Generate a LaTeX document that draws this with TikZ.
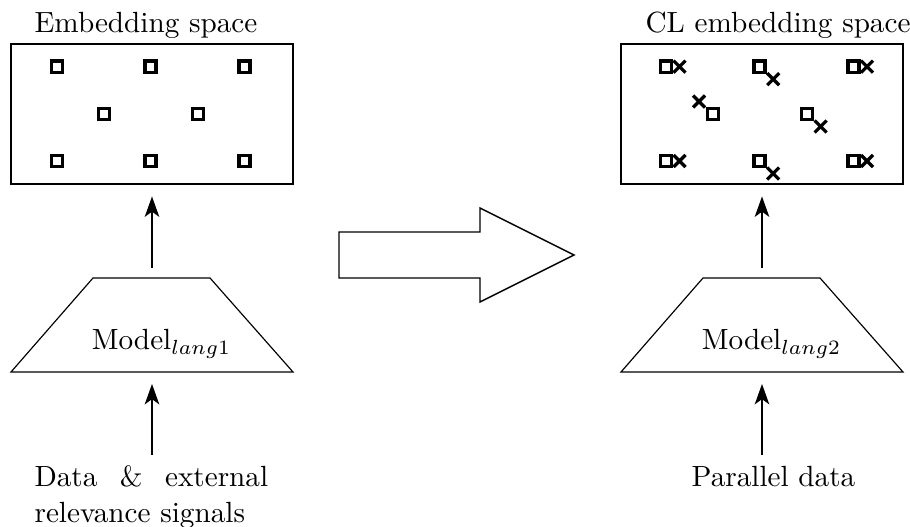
\documentclass[tikz,border=0pt]{standalone}
\usetikzlibrary{arrows.meta,fit}
\begin{document}
\begin{tikzpicture}[x=0.3425pt,y=-0.3425pt,
  frame/.style={draw, line width=0.35pt, inner sep=0pt},
  sq/.style={line width=1.2pt},
  xm/.style={line width=1.1pt},
  arr/.style={-{Stealth[length=7pt,width=5pt,inset=1.8pt]}, line width=0.45pt},
  lbl/.style={inner sep=0pt}]
\useasboundingbox (0,0) rectangle (910,527);

% titles
\node[lbl, anchor=base west] (t1) at (34,33) {Embedding space};
\node[lbl, anchor=base west] (t2) at (645,33) {CL embedding space};

% embedding frames
\coordinate (a1) at (11,44);  \coordinate (b1) at (293,184);
\coordinate (a2) at (621,44); \coordinate (b2) at (903,184);
\node[frame, fit=(a1)(b1)] (emb1) {};
\node[frame, fit=(a2)(b2)] (emb2) {};

% points of the first space
\foreach \x/\y in {57/66.7,150.5/66.7,244.5/66.7,104/114,198/114,57/161,150.5/161,244.5/161}
  \draw[sq, shift={(\x,\y)}] (-5.6,-5.6) rectangle (5.6,5.6);

% points of the aligned space with their counterparts
\foreach \x/\y/\dx/\dy in {57/66.7/13.5/0,150.5/66.7/13.7/12.5,244.5/66.7/13.5/0,
                           104/114/-14/-12.5,198/114/13.7/12.5,
                           57/161/13.5/0,150.5/161/13.7/12.5,244.5/161/13.5/0}{
  \begin{scope}[shift={(\x+609,\y)}]
    \draw[sq] (-5.6,-5.6) rectangle (5.6,5.6);
    \draw[xm, shift={(\dx,\dy)}] (-6,-6) -- (6,6) (-6,6) -- (6,-6);
  \end{scope}
}

% models
\draw[line width=0.4pt] (93,278) -- (210,278) -- (293,372) -- (11,372) -- cycle;
\draw[line width=0.4pt] (703,278) -- (820,278) -- (903,372) -- (621,372) -- cycle;
\coordinate (m1top) at (152,278); \coordinate (m1bot) at (152,372);
\coordinate (m2top) at (762,278); \coordinate (m2bot) at (762,372);
\node[lbl, anchor=base] (m1) at (161.5,350) {Model$_{lang1}$};
\node[lbl, anchor=base] (m2) at (771.5,350) {Model$_{lang2}$};

% inputs
\node[lbl, anchor=base west] (d1) at (34,487) {\parbox[t]{80pt}{Data \& external relevance signals}};
\node[lbl, anchor=base] (d2) at (773.5,487) {Parallel data};
\coordinate (in1) at (152,455);
\coordinate (in2) at (762,455);

% connectors
\draw[arr, shorten <=3.4pt, shorten >=4.1pt] (m1top) -- (emb1.south);
\draw[arr, shorten <=3.4pt, shorten >=4.1pt] (m2top) -- (emb2.south);
\draw[arr, shorten >=4.1pt] (in1) -- (m1bot);
\draw[arr, shorten >=4.1pt] (in2) -- (m2bot);

% transition arrow
\draw[line width=0.5pt] (339,232) -- (480,232) -- (480,208) -- (574,255)
  -- (480,302) -- (480,278) -- (339,278) -- cycle;
\end{tikzpicture}
\end{document}
